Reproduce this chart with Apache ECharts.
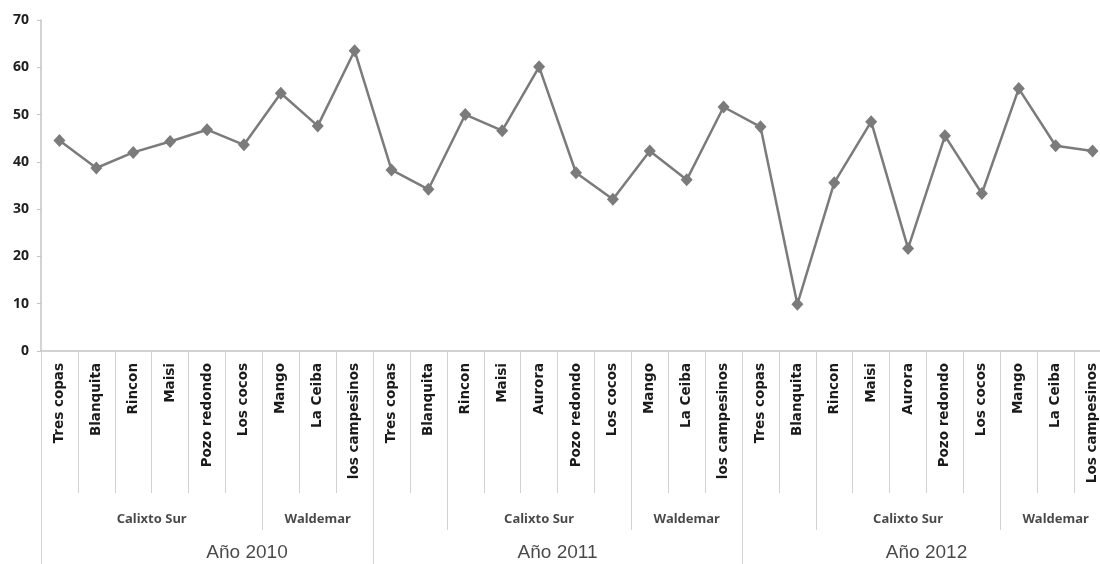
<!DOCTYPE html>
<html>
<head>
<meta charset="utf-8">
<script src="https://cdn.jsdelivr.net/npm/echarts@6/dist/echarts.min.js"></script>
<style>
  html, body { margin: 0; background: #fff; }
  #chart { width: 1100px; height: 564px; }
</style>
</head>
<body>
<div id="chart"></div>
<script>
const categories = [
  'Tres copas', 'Blanquita', 'Rincon', 'Maisi', 'Pozo redondo', 'Los cocos', 'Mango', 'La Ceiba', 'los campesinos',
  'Tres copas', 'Blanquita', 'Rincon', 'Maisi', 'Aurora', 'Pozo redondo', 'Los cocos', 'Mango', 'La Ceiba', 'los campesinos',
  'Tres copas', 'Blanquita', 'Rincon', 'Maisi', 'Aurora', 'Pozo redondo', 'Los cocos', 'Mango', 'La Ceiba', 'Los campesinos'
];
const values = [
  44.5, 38.7, 42.0, 44.3, 46.8, 43.6, 54.5, 47.6, 63.5,
  38.3, 34.2, 50.0, 46.6, 60.1, 37.7, 32.1, 42.3, 36.2, 51.6,
  47.4, 9.9, 35.6, 48.5, 21.7, 45.5, 33.3, 55.5, 43.4, 42.3
];
const zoneNames = ['Calixto Sur', 'Waldemar', '', 'Calixto Sur', 'Waldemar', '', 'Calixto Sur', 'Waldemar'];
const zoneSizes = [6, 3, 2, 5, 3, 2, 5, 3];
const years = ['Año 2010', 'Año 2011', 'Año 2012'];
const yearSizes = [9, 10, 10];
const yTicks = [0, 10, 20, 30, 40, 50, 60, 70];

// start index of each block
function starts(sizes) {
  const out = [];
  let acc = 0;
  sizes.forEach(s => { out.push(acc); acc += s; });
  return out;
}
const zoneStarts = starts(zoneSizes);
const yearStarts = starts(yearSizes);

const GRID_LEFT = 41, GRID_RIGHT = -11, AXIS_BOTTOM = 213;
const lineGrey = '#d2d2d2';

const zoneLabels = zoneNames
  .map((n, i) => ({ name: n, value: [zoneStarts[i] + zoneSizes[i] / 2, 168] }))
  .filter(d => d.name);
const yearLabels = years.map((n, i) => ({
  name: n,
  value: [yearStarts[i] + yearSizes[i] / 2, 202],
  label: i === 0 ? { offset: [40, 0] } : undefined
}));

const tickAxis = (len, list) => ({
  type: 'category',
  gridIndex: 0,
  position: 'bottom',
  data: categories,
  boundaryGap: true,
  axisLine: { show: false },
  axisLabel: { show: false },
  axisTick: {
    show: true,
    length: len,
    interval: (idx) => list.includes(idx),
    lineStyle: { color: lineGrey, width: 1 }
  }
});

const chart = echarts.init(document.getElementById('chart'));
chart.setOption({
  animation: false,
  backgroundColor: '#fff',
  grid: [
    { left: GRID_LEFT, right: GRID_RIGHT, top: 20, bottom: AXIS_BOTTOM, outerBoundsMode: 'none', containLabel: false },
    { left: GRID_LEFT, right: GRID_RIGHT, top: 564 - AXIS_BOTTOM, bottom: 0, outerBoundsMode: 'none', containLabel: false }
  ],
  xAxis: [
    {
      type: 'category',
      gridIndex: 0,
      position: 'bottom',
      data: categories,
      boundaryGap: true,
      axisLine: { show: true, lineStyle: { color: '#c4c4c4', width: 1.5 } },
      axisTick: { show: true, interval: 0, length: 142, lineStyle: { color: lineGrey, width: 1 } },
      axisLabel: {
        interval: 0,
        rotate: 90,
        margin: 12,
        color: '#1a1a1a',
        fontFamily: 'DejaVu Sans',
        fontWeight: 'bold',
        fontSize: 13.5
      }
    },
    tickAxis(179, zoneStarts),
    tickAxis(215, yearStarts),
    { type: 'value', gridIndex: 1, min: 0, max: categories.length, show: false }
  ],
  yAxis: [
    {
      type: 'value',
      gridIndex: 0,
      min: 0,
      max: yTicks[yTicks.length - 1],
      interval: yTicks[1] - yTicks[0],
      splitLine: { show: false },
      axisLine: { show: true, lineStyle: { color: '#c4c4c4', width: 1.5 } },
      axisTick: { show: true, length: 4, lineStyle: { color: '#c4c4c4' } },
      axisLabel: {
        margin: 12,
        color: '#1e1e1e',
        fontFamily: 'Noto Sans',
        fontWeight: 'bold',
        fontSize: 14
      }
    },
    { type: 'value', gridIndex: 1, min: 0, max: AXIS_BOTTOM, inverse: true, show: false }
  ],
  series: [
    {
      type: 'line',
      xAxisIndex: 0,
      yAxisIndex: 0,
      data: values,
      symbol: 'diamond',
      symbolSize: [12, 13],
      showAllSymbol: true,
      lineStyle: { color: '#7b7b7b', width: 2.5 },
      itemStyle: { color: '#7b7b7b' }
    },
    {
      type: 'scatter',
      xAxisIndex: 3,
      yAxisIndex: 1,
      silent: true,
      symbolSize: 0,
      data: zoneLabels,
      label: {
        show: true,
        position: 'inside',
        formatter: '{b}',
        color: '#1a1a1a',
        fontFamily: 'Noto Sans',
        fontWeight: 'bold',
        fontSize: 13
      }
    },
    {
      type: 'scatter',
      xAxisIndex: 3,
      yAxisIndex: 1,
      silent: true,
      symbolSize: 0,
      data: yearLabels,
      label: {
        show: true,
        position: 'inside',
        formatter: '{b}',
        color: '#1a1a1a',
        fontFamily: 'Liberation Sans',
        fontSize: 19
      }
    }
  ]
});
</script>
</body>
</html>
